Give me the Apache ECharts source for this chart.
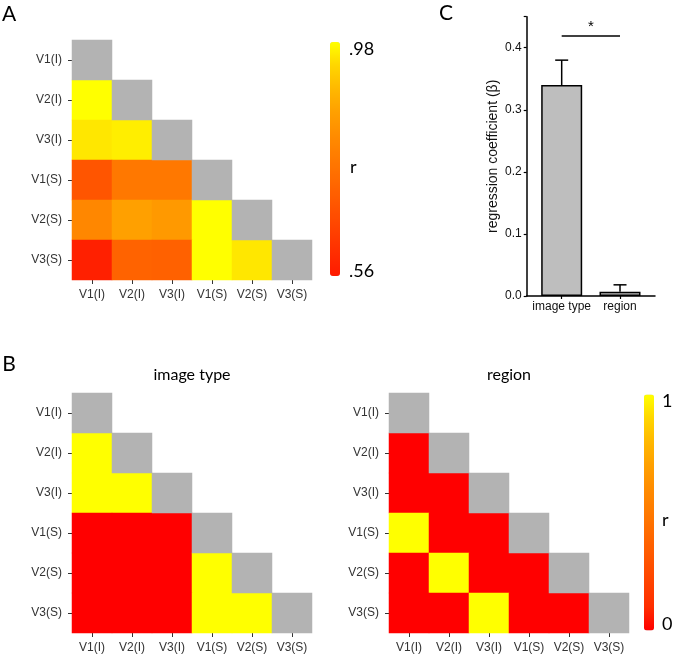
<!DOCTYPE html>
<html>
<head>
<meta charset="utf-8">
<script src="https://cdn.jsdelivr.net/npm/echarts@6/dist/echarts.min.js"></script>
<style>
html,body{margin:0;padding:0;background:#fff;}
#main{width:675px;height:655px;}
</style>
</head>
<body>
<div id="main"></div>
<script>
// ---------- data ----------
const categories = ['V1(I)', 'V2(I)', 'V3(I)', 'V1(S)', 'V2(S)', 'V3(S)'];
// lower-triangle rows: row i holds values for columns 0..i-1
const corrA = [
  [],
  [0.98],
  [0.955, 0.963],
  [0.686, 0.766, 0.766],
  [0.80, 0.854, 0.84, 0.98],
  [0.573, 0.716, 0.712, 0.98, 0.955]
];
const corrRangeA = [0.56, 0.98];
const corrRangeLabelsA = ['.98', '.56'];
const imageTypeModel = [
  [],
  [1],
  [1, 1],
  [0, 0, 0],
  [0, 0, 0, 1],
  [0, 0, 0, 1, 1]
];
const regionModel = [
  [],
  [0],
  [0, 0],
  [1, 0, 0],
  [0, 1, 0, 0],
  [0, 0, 1, 0, 0]
];
const modelRange = [0, 1];
const coefCategories = ['image type', 'region'];
const coefMeans = [0.34, 0.007];
const coefUpper = [0.38, 0.018];
const coefTicks = [0, 0.1, 0.2, 0.3, 0.4];
const sigLevel = 0.42;
const sigLabel = '*';

// ---------- helpers ----------
function triCells(rows) {
  const out = [];
  rows.forEach((r, i) => r.forEach((v, j) => out.push([j, i, v])));
  return out;
}
const diagCells = categories.map((c, i) => [i, i, 1]);

const palette = ['#ff1a00', '#ff2e00', '#ff4200', '#ff5500', '#ff6800', '#ff7a00',
                 '#ff8c00', '#ffa000', '#ffb800', '#ffd600', '#ffff00'];
const paletteB = ['#ff0000'].concat(palette.slice(1));

const labelFont = 'Liberation Sans';
const titleFont = 'Lato';

function catX(gi) {
  return {
    type: 'category', gridIndex: gi, data: categories,
    axisLine: {show: false},
    axisTick: {show: true, length: 4, alignWithLabel: true, interval: 0, lineStyle: {color: '#333'}},
    axisLabel: {color: '#333', fontSize: 12, fontFamily: labelFont, margin: 9, interval: 0},
    splitLine: {show: false}
  };
}
function catY(gi) {
  return {
    type: 'category', gridIndex: gi, data: categories, inverse: true,
    axisLine: {show: false},
    axisTick: {show: true, length: 4, alignWithLabel: true, interval: 0, lineStyle: {color: '#333'}},
    axisLabel: {color: '#333', fontSize: 12, fontFamily: labelFont, margin: 10, interval: 0},
    splitLine: {show: false}
  };
}
function heat(gi, data) {
  return {type: 'heatmap', xAxisIndex: gi, yAxisIndex: gi, data: data,
          emphasis: {disabled: true}, itemStyle: {borderWidth: 0}};
}
function diag(gi) {
  return {type: 'heatmap', xAxisIndex: gi, yAxisIndex: gi, data: diagCells,
          emphasis: {disabled: true}, itemStyle: {color: '#b3b3b3', borderWidth: 0}};
}

const chart = echarts.init(document.getElementById('main'));
const option = {
  animation: false,
  backgroundColor: '#fff',
  grid: [
    {left: 72, top: 40, width: 240, height: 240},
    {left: 526.7, top: 16.7, width: 128.3, height: 279.3},
    {left: 72, top: 393, width: 240, height: 240},
    {left: 389, top: 393, width: 240, height: 240}
  ],
  xAxis: [
    catX(0),
    {
      type: 'value', gridIndex: 1, min: 0.4, max: 2.6,
      axisLine: {show: true, onZero: true, lineStyle: {color: '#000', width: 1.5}},
      axisTick: {show: true, length: 3, customValues: [1, 2], lineStyle: {color: '#000', width: 1.2}},
      axisLabel: {show: true, customValues: [1, 2], margin: 5, color: '#111', fontSize: 12,
                  fontFamily: labelFont, formatter: v => coefCategories[Math.round(v) - 1] || ''},
      splitLine: {show: false}
    },
    catX(2),
    catX(3)
  ],
  yAxis: [
    catY(0),
    {
      type: 'value', gridIndex: 1, min: 0, max: 0.45, interval: 0.1,
      name: 'regression coefficient (\u03b2)', nameLocation: 'middle', nameGap: 27,
      nameTextStyle: {fontSize: 14, fontFamily: labelFont, color: '#111'},
      axisLine: {show: true, lineStyle: {color: '#000', width: 1.5}},
      axisTick: {show: true, length: 3, lineStyle: {color: '#000', width: 1.2}},
      axisLabel: {color: '#111', fontSize: 12, fontFamily: labelFont, margin: 5,
                  formatter: v => (coefTicks.indexOf(Math.round(v * 10) / 10) >= 0 ? v.toFixed(1) : '')},
      splitLine: {show: false}
    },
    catY(2),
    catY(3)
  ],
  visualMap: [
    {
      type: 'continuous', seriesIndex: 0, min: corrRangeA[0], max: corrRangeA[1],
      orient: 'vertical', left: 330, top: 42, itemWidth: 10, itemHeight: 234,
      padding: 0, calculable: false, text: null, showLabel: false,
      inRange: {color: palette}
    },
    {
      type: 'continuous', seriesIndex: [4, 6], min: modelRange[0], max: modelRange[1],
      orient: 'vertical', left: 644, top: 394.5, itemWidth: 10, itemHeight: 236,
      padding: 0, calculable: false, text: null, showLabel: false,
      inRange: {color: paletteB}
    }
  ],
  series: [
    heat(0, triCells(corrA)),
    diag(0),
    {
      type: 'bar', xAxisIndex: 1, yAxisIndex: 1, barWidth: 41,
      data: coefMeans.map((v, i) => [i + 1, v]),
      itemStyle: {color: '#bebebe', borderColor: '#000', borderWidth: 1.5},
      emphasis: {disabled: true},
      z: 3,
      markLine: {
        silent: true, symbol: 'none',
        lineStyle: {color: '#000', width: 1.5, type: 'solid'},
        label: {show: true, position: 'middle', formatter: sigLabel, color: '#000',
                fontSize: 15, fontFamily: labelFont, distance: 1},
        data: [[{coord: [1, sigLevel]}, {coord: [2, sigLevel]}]]
      }
    },
    {
      type: 'custom', xAxisIndex: 1, yAxisIndex: 1, z: 2,
      data: coefMeans.map((v, i) => [i + 1, v, coefUpper[i]]),
      renderItem: function (params, api) {
        const x = api.value(0);
        const base = api.coord([x, api.value(1)]);
        const top = api.coord([x, api.value(2)]);
        const half = 6.5;
        const st = {stroke: '#000', lineWidth: 1.5};
        return {
          type: 'group',
          children: [
            {type: 'line', shape: {x1: base[0], y1: base[1], x2: top[0], y2: top[1]}, style: st},
            {type: 'line', shape: {x1: top[0] - half, y1: top[1], x2: top[0] + half, y2: top[1]}, style: st}
          ]
        };
      }
    },
    heat(2, triCells(imageTypeModel)),
    diag(2),
    heat(3, triCells(regionModel)),
    diag(3)
  ],
  graphic: [
    {type: 'text', x: 9, y: 14, style: {text: 'A', font: '21px ' + titleFont, fill: '#000', textAlign: 'center', textVerticalAlign: 'middle'}},
    {type: 'text', x: 446, y: 13, style: {text: 'C', font: '21px ' + titleFont, fill: '#000', textAlign: 'center', textVerticalAlign: 'middle'}},
    {type: 'text', x: 9, y: 364, style: {text: 'B', font: '21px ' + titleFont, fill: '#000', textAlign: 'center', textVerticalAlign: 'middle'}},
    {type: 'text', x: 192, y: 375, style: {text: 'image type', font: '16px ' + titleFont, fill: '#000', textAlign: 'center', textVerticalAlign: 'middle'}},
    {type: 'text', x: 509, y: 375, style: {text: 'region', font: '16px ' + titleFont, fill: '#000', textAlign: 'center', textVerticalAlign: 'middle'}},
    {type: 'text', x: 349, y: 49, style: {text: corrRangeLabelsA[0], font: '18px ' + titleFont, fill: '#000', textAlign: 'left', textVerticalAlign: 'middle'}},
    {type: 'text', x: 349, y: 271, style: {text: corrRangeLabelsA[1], font: '18px ' + titleFont, fill: '#000', textAlign: 'left', textVerticalAlign: 'middle'}},
    {type: 'text', x: 350, y: 167, style: {text: 'r', font: '18px ' + titleFont, fill: '#000', textAlign: 'left', textVerticalAlign: 'middle'}},
    {type: 'text', x: 662, y: 401, style: {text: String(modelRange[1]), font: '18px ' + titleFont, fill: '#000', textAlign: 'left', textVerticalAlign: 'middle'}},
    {type: 'text', x: 662, y: 624, style: {text: String(modelRange[0]), font: '18px ' + titleFont, fill: '#000', textAlign: 'left', textVerticalAlign: 'middle'}},
    {type: 'text', x: 662, y: 520, style: {text: 'r', font: '18px ' + titleFont, fill: '#000', textAlign: 'left', textVerticalAlign: 'middle'}}
  ]
};
chart.setOption(option);
</script>
</body>
</html>
